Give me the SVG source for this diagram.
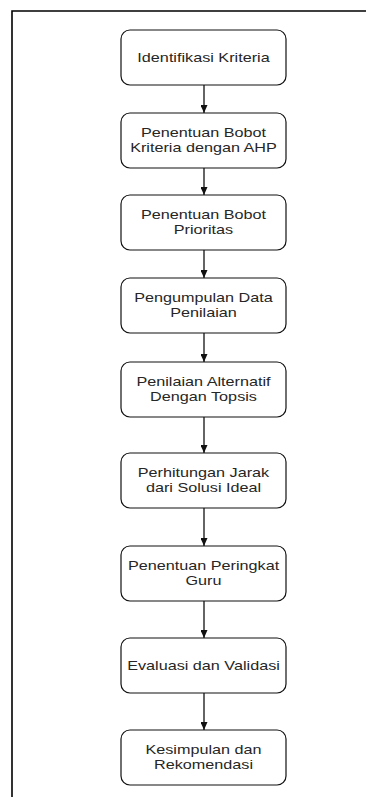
<svg xmlns="http://www.w3.org/2000/svg" width="371" height="797" viewBox="0 0 371 797">
<style>
.box{fill:#fff;stroke:#111;stroke-width:1.2}
.lbl{font-family:"Liberation Sans",Arial,sans-serif;font-size:12px;fill:#262626;text-anchor:middle}
.edge{stroke:#111;stroke-width:1.3;fill:none}
.frame{stroke:#000;stroke-width:1.6;fill:none}
</style>
<defs>
<marker id="ah" viewBox="0 0 8 7" refX="8" refY="3.5" markerWidth="8" markerHeight="7" markerUnits="userSpaceOnUse" orient="auto">
<path d="M0,0 L8,3.5 L0,7 Z" fill="#111"/>
</marker>
</defs>
<rect width="371" height="797" fill="#fff"/>
<path class="frame" d="M12,797 L12,11 L366,11"/>
<g id="connectors">
<line class="edge" x1="204" y1="85" x2="204" y2="113" marker-end="url(#ah)"/>
<line class="edge" x1="204" y1="168" x2="204" y2="195" marker-end="url(#ah)"/>
<line class="edge" x1="204" y1="250" x2="204" y2="278" marker-end="url(#ah)"/>
<line class="edge" x1="204" y1="333" x2="204" y2="362" marker-end="url(#ah)"/>
<line class="edge" x1="204" y1="417" x2="204" y2="453" marker-end="url(#ah)"/>
<line class="edge" x1="204" y1="508" x2="204" y2="546" marker-end="url(#ah)"/>
<line class="edge" x1="204" y1="601" x2="204" y2="638" marker-end="url(#ah)"/>
<line class="edge" x1="204" y1="693" x2="204" y2="730" marker-end="url(#ah)"/>
</g>
<g id="n1"><rect class="box" x="121" y="30" width="165" height="55" rx="9"/>
<text class="lbl" transform="translate(203.5 0) scale(1.35 1)" x="0" y="62">Identifikasi Kriteria</text></g>
<g id="n2"><rect class="box" x="121" y="113" width="165" height="55" rx="9"/>
<text class="lbl" transform="translate(203.5 0) scale(1.35 1)"><tspan x="0" y="137.5">Penentuan Bobot</tspan><tspan x="0" y="152.5">Kriteria dengan AHP</tspan></text></g>
<g id="n3"><rect class="box" x="121" y="195" width="165" height="55" rx="9"/>
<text class="lbl" transform="translate(203.5 0) scale(1.35 1)"><tspan x="0" y="219.5">Penentuan Bobot</tspan><tspan x="0" y="234.5">Prioritas</tspan></text></g>
<g id="n4"><rect class="box" x="121" y="278" width="165" height="55" rx="9"/>
<text class="lbl" transform="translate(203.5 0) scale(1.35 1)"><tspan x="0" y="302.5">Pengumpulan Data</tspan><tspan x="0" y="317.5">Penilaian</tspan></text></g>
<g id="n5"><rect class="box" x="121" y="362" width="165" height="55" rx="9"/>
<text class="lbl" transform="translate(203.5 0) scale(1.35 1)"><tspan x="0" y="386.5">Penilaian Alternatif</tspan><tspan x="0" y="401.5">Dengan Topsis</tspan></text></g>
<g id="n6"><rect class="box" x="121" y="453" width="165" height="55" rx="9"/>
<text class="lbl" transform="translate(203.5 0) scale(1.35 1)"><tspan x="0" y="477.5">Perhitungan Jarak</tspan><tspan x="0" y="492.5">dari Solusi Ideal</tspan></text></g>
<g id="n7"><rect class="box" x="121" y="546" width="165" height="55" rx="9"/>
<text class="lbl" transform="translate(203.5 0) scale(1.35 1)"><tspan x="0" y="570.5">Penentuan Peringkat</tspan><tspan x="0" y="585.5">Guru</tspan></text></g>
<g id="n8"><rect class="box" x="121" y="638" width="165" height="55" rx="9"/>
<text class="lbl" transform="translate(203.5 0) scale(1.35 1)" x="0" y="670">Evaluasi dan Validasi</text></g>
<g id="n9"><rect class="box" x="121" y="730" width="165" height="55" rx="9"/>
<text class="lbl" transform="translate(203.5 0) scale(1.35 1)"><tspan x="0" y="754.5">Kesimpulan dan</tspan><tspan x="0" y="769.5">Rekomendasi</tspan></text></g>
</svg>
